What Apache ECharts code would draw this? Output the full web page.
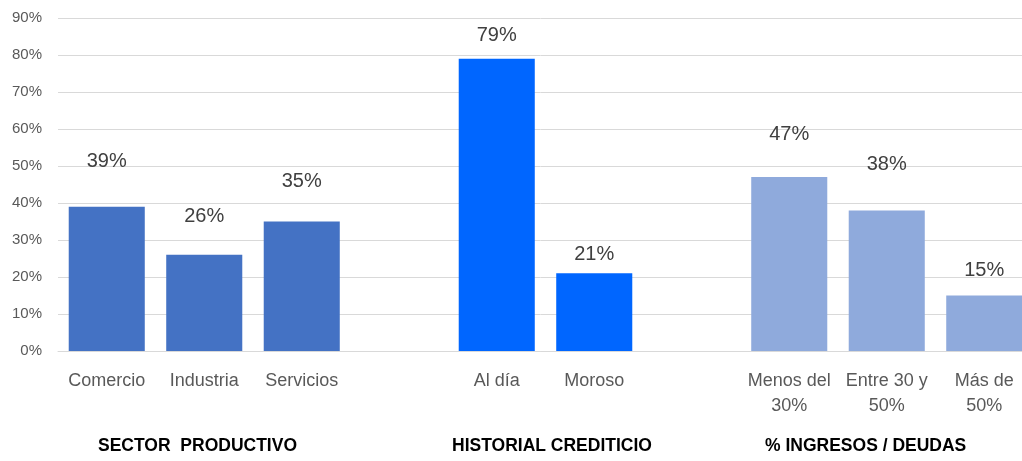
<!DOCTYPE html>
<html>
<head>
<meta charset="utf-8">
<script src="https://cdn.jsdelivr.net/npm/echarts@6/dist/echarts.min.js"></script>
<style>
  html, body { margin: 0; padding: 0; background: #fff; }
  #chart { width: 1022px; height: 461px; }
</style>
</head>
<body>
<div id="chart"></div>
<script>
// categories (empty ones are the gaps between groups)
const categories = ['Comercio', 'Industria', 'Servicios', '', 'Al día', 'Moroso', '', 'Menos del\n30%', 'Entre 30 y\n50%', 'Más de\n50%'];
const sectorValues = [39, 26, 35];
const historialValues = [79, 21];
const ingresosValues = [47, 38, 15];
const groupNames = ['SECTOR  PRODUCTIVO', 'HISTORIAL CREDITICIO', '% INGRESOS / DEUDAS'];
const yTicks = [0, 10, 20, 30, 40, 50, 60, 70, 80, 90];

// label lift above each bar, Excel labels were dragged by hand
const labelGap = [35, 28, 30, 0, 13, 9, 0, 33, 36, 15];

const colors = ['#4472C4', '#0066FF', '#8FAADC'];
const font = 'Liberation Sans, Arial, sans-serif';

function buildData() {
  const groups = [sectorValues, null, historialValues, null, ingresosValues];
  let out = [];
  let g = 0;
  groups.forEach(arr => {
    if (arr === null) { out.push('-'); return; }
    arr.forEach(v => {
      out.push({
        value: v,
        itemStyle: { color: colors[g] },
        label: { distance: labelGap[out.length] }
      });
    });
    g++;
  });
  return out;
}

const chart = echarts.init(document.getElementById('chart'));
chart.setOption({
  animation: false,
  // plot area runs past the right edge of the picture, like the original
  grid: { left: 58, width: 975, top: 18, bottom: 110, outerBoundsMode: 'none', containLabel: false },
  xAxis: {
    type: 'category',
    data: categories,
    axisTick: { show: false },
    axisLine: { lineStyle: { color: '#d9d9d9' } },
    axisLabel: {
      color: '#595959', fontSize: 18, fontFamily: font,
      interval: 0, margin: 18, lineHeight: 25
    }
  },
  yAxis: {
    type: 'value',
    min: yTicks[0],
    max: yTicks[yTicks.length - 1],
    interval: 10,
    axisLine: { show: false },
    axisTick: { show: false },
    splitLine: { lineStyle: { color: '#d9d9d9', width: 1 } },
    axisLabel: {
      color: '#595959', fontSize: 15, fontFamily: font, margin: 16,
      formatter: v => v + '%'
    }
  },
  series: [{
    type: 'bar',
    barWidth: '78%',
    data: buildData(),
    label: {
      show: true,
      position: 'top',
      color: '#404040',
      fontSize: 20,
      fontFamily: font,
      formatter: p => p.value + '%'
    }
  }],
  graphic: [
    { type: 'text', left: 98, top: 437, style: { text: groupNames[0], font: 'bold 17.5px ' + font, fill: '#000' } },
    { type: 'text', left: 452, top: 437, style: { text: groupNames[1], font: 'bold 17.5px ' + font, fill: '#000' } },
    { type: 'text', left: 765, top: 437, style: { text: groupNames[2], font: 'bold 17.5px ' + font, fill: '#000' } }
  ]
});
</script>
</body>
</html>
